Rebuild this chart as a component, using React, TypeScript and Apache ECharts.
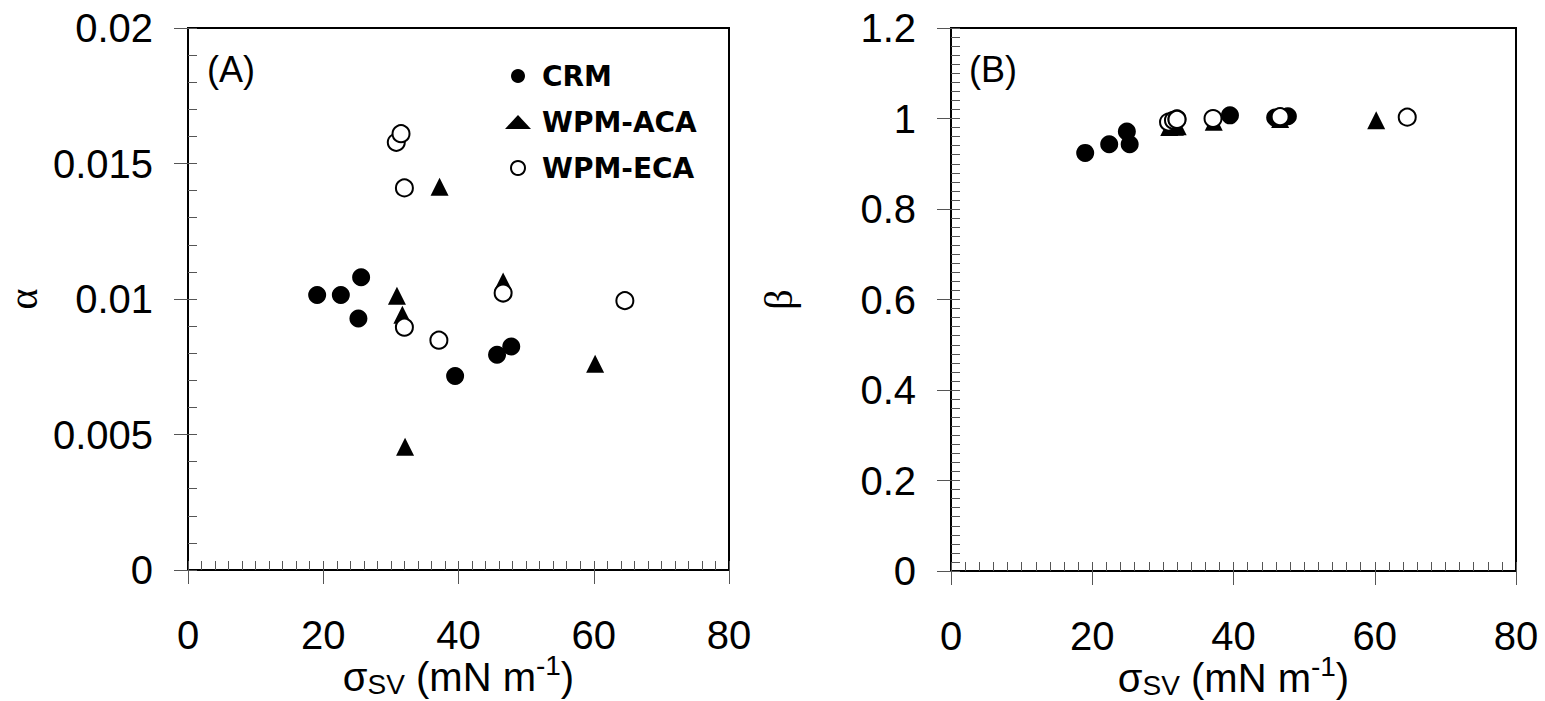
import React, { useEffect, useRef } from "react";
import * as echarts from "echarts";

// ---- Data ----
const seriesNames = ["CRM", "WPM-ACA", "WPM-ECA"];

// Panel (A): alpha vs sigma_SV
const crmSigmaA = [19.1, 22.6, 25.6, 25.2, 39.5, 45.7, 47.8];
const crmAlpha = [0.01015, 0.01015, 0.0108, 0.00928, 0.00716, 0.00794, 0.00825];
const acaSigmaA = [30.9, 31.7, 32.1, 37.2, 46.6, 60.2];
const acaAlpha = [0.01012, 0.00942, 0.00455, 0.01414, 0.01065, 0.00761];
const ecaSigmaA = [30.8, 31.5, 32.0, 32.0, 37.1, 46.6, 64.6];
const ecaAlpha = [0.01578, 0.0161, 0.0141, 0.00896, 0.00848, 0.01022, 0.00994];

// Panel (B): beta vs sigma_SV
const crmSigmaB = [19.0, 22.4, 24.9, 25.3, 39.5, 45.9, 47.7];
const crmBeta = [0.924, 0.943, 0.971, 0.943, 1.007, 1.002, 1.005];
const acaSigmaB = [30.9, 31.7, 32.1, 37.2, 46.6, 60.2];
const acaBeta = [0.981, 0.982, 0.983, 0.993, 0.999, 0.996];
const ecaSigmaB = [30.8, 31.5, 32.0, 32.0, 37.1, 46.6, 64.6];
const ecaBeta = [0.992, 0.996, 0.999, 0.998, 1.0, 1.004, 1.003];

// Axis ranges / ticks
const xRange = { min: 0, max: 80, interval: 20, minorSplit: 10 };
const yRangeA = { min: 0, max: 0.02, interval: 0.005, minorSplit: 5 };
const yRangeB = { min: 0, max: 1.2, interval: 0.2, minorSplit: 10 };

const panelLabels = ["(A)", "(B)"];
const xTitle = "{a|σ}{sub|SV}{a| (mN m}{sup|-1}{a|)}";
const yTitles = ["α", "β"];

const SANS = "Liberation Sans, Arial, sans-serif";
const SERIF = "Liberation Serif, Times New Roman, serif";

const zip = (xs: number[], ys: number[]) => xs.map((x, i) => [x, ys[i]]);

const tickColor = "#555";

function mainXAxis(gridIndex: number) {
  return {
    type: "value",
    gridIndex,
    min: xRange.min,
    max: xRange.max,
    interval: xRange.interval,
    position: "bottom",
    axisLine: { show: true, onZero: false, lineStyle: { color: "#000", width: 2 } },
    axisTick: { show: true, inside: false, length: 14, lineStyle: { color: tickColor, width: 1 } },
    minorTick: { show: false },
    splitLine: { show: false },
    axisLabel: { show: true, margin: 45, fontSize: 40, color: "#000", fontFamily: SANS },
    name: xTitle,
    nameLocation: "middle",
    nameGap: 75,
    nameMoveOverlap: false,
    nameTextStyle: {
      fontFamily: SANS,
      fontSize: 40,
      color: "#000",
      rich: {
        a: { fontFamily: SANS, fontSize: 40, lineHeight: 40, padding: [12, 0, 0, 0], verticalAlign: "top", color: "#000" },
        sub: { fontFamily: SANS, fontSize: 28, lineHeight: 28, padding: [25, 0, 0, 0], verticalAlign: "top", color: "#000" },
        sup: { fontFamily: SANS, fontSize: 28, lineHeight: 28, padding: [6, 0, 0, 0], verticalAlign: "top", color: "#000" },
      },
    },
  };
}

function overlayXAxis(gridIndex: number) {
  return {
    type: "value",
    gridIndex,
    min: xRange.min,
    max: xRange.max,
    interval: xRange.interval,
    position: "bottom",
    axisLine: { show: false, onZero: false },
    axisTick: { show: true, inside: true, length: 9, lineStyle: { color: tickColor, width: 1 } },
    minorTick: { show: true, splitNumber: xRange.minorSplit, length: 9, lineStyle: { color: tickColor, width: 1 } },
    splitLine: { show: false },
    axisLabel: { show: false },
  };
}

function mainYAxis(gridIndex: number, r: any, name: string, gap: number) {
  return {
    type: "value",
    gridIndex,
    min: r.min,
    max: r.max,
    interval: r.interval,
    position: "left",
    axisLine: { show: true, onZero: false, lineStyle: { color: "#000", width: 2 } },
    axisTick: { show: true, inside: false, length: 14, lineStyle: { color: tickColor, width: 1 } },
    minorTick: { show: false },
    splitLine: { show: false },
    axisLabel: { show: true, margin: 35, fontSize: 40, color: "#000", fontFamily: SANS },
    name,
    nameLocation: "middle",
    nameGap: gap,
    nameMoveOverlap: false,
    nameTextStyle: { fontFamily: SERIF, fontSize: 40, color: "#000" },
  };
}

function overlayYAxis(gridIndex: number, r: any) {
  return {
    type: "value",
    gridIndex,
    min: r.min,
    max: r.max,
    interval: r.interval,
    position: "left",
    axisLine: { show: false, onZero: false },
    axisTick: { show: true, inside: true, length: 9, lineStyle: { color: tickColor, width: 1 } },
    minorTick: { show: true, splitNumber: r.minorSplit, length: 9, lineStyle: { color: tickColor, width: 1 } },
    splitLine: { show: false },
    axisLabel: { show: false },
  };
}

const crmStyle = { symbol: "circle", symbolSize: 18, itemStyle: { color: "#000", opacity: 1 } };
const acaStyle = { symbol: "triangle", symbolSize: 18, itemStyle: { color: "#000", opacity: 1 } };
const ecaStyle = {
  symbol: "circle",
  symbolSize: 17,
  itemStyle: { color: "#fff", borderColor: "#000", borderWidth: 2, opacity: 1 },
};

function buildOption() {
  const gridA = { left: 188, top: 28, width: 541, height: 542 };
  const gridB = { left: 951, top: 28, width: 565, height: 543 };
  const frame = { show: true, borderColor: "#000", borderWidth: 2, backgroundColor: "transparent" };
  return {
    animation: false,
    backgroundColor: "#fff",
    grid: [
      { ...gridA, ...frame, outerBoundsMode: "none" },
      { ...gridA, show: false, outerBoundsMode: "none" },
      { ...gridB, ...frame, outerBoundsMode: "none" },
      { ...gridB, show: false, outerBoundsMode: "none" },
    ],
    xAxis: [mainXAxis(0), overlayXAxis(1), mainXAxis(2), overlayXAxis(3)],
    yAxis: [
      mainYAxis(0, yRangeA, yTitles[0], 145),
      overlayYAxis(1, yRangeA),
      mainYAxis(2, yRangeB, yTitles[1], 153),
      overlayYAxis(3, yRangeB),
    ],
    legend: {
      data: seriesNames,
      orient: "vertical",
      left: 500,
      top: 57,
      itemWidth: 26,
      itemHeight: 14,
      itemGap: 18,
      selectedMode: false,
      textStyle: { fontFamily: "DejaVu Sans", fontWeight: "bold", fontSize: 28, color: "#000", padding: [0, 0, 0, 6] },
    },
    graphic: [
      { type: "text", x: 207, y: 69, style: { text: panelLabels[0], fontSize: 36, fontFamily: SANS, fill: "#000", verticalAlign: "middle" } },
      { type: "text", x: 969, y: 69, style: { text: panelLabels[1], fontSize: 36, fontFamily: SANS, fill: "#000", verticalAlign: "middle" } },
    ],
    series: [
      { name: seriesNames[0], type: "scatter", xAxisIndex: 0, yAxisIndex: 0, data: zip(crmSigmaA, crmAlpha), ...crmStyle },
      { name: seriesNames[1], type: "scatter", xAxisIndex: 0, yAxisIndex: 0, data: zip(acaSigmaA, acaAlpha), ...acaStyle },
      { name: seriesNames[2], type: "scatter", xAxisIndex: 0, yAxisIndex: 0, data: zip(ecaSigmaA, ecaAlpha), ...ecaStyle },
      { name: seriesNames[0], type: "scatter", xAxisIndex: 2, yAxisIndex: 2, data: zip(crmSigmaB, crmBeta), ...crmStyle },
      { name: seriesNames[1], type: "scatter", xAxisIndex: 2, yAxisIndex: 2, data: zip(acaSigmaB, acaBeta), ...acaStyle },
      { name: seriesNames[2], type: "scatter", xAxisIndex: 2, yAxisIndex: 2, data: zip(ecaSigmaB, ecaBeta), ...ecaStyle },
    ],
  };
}

export default function App() {
  const ref = useRef<HTMLDivElement>(null);
  useEffect(() => {
    if (!ref.current) return;
    const chart = echarts.init(ref.current, null, { renderer: "svg" });
    chart.setOption(buildOption() as any);
    return () => chart.dispose();
  }, []);
  return (
    <div
      ref={ref}
      style={{ position: "absolute", left: 0, top: 0, width: 1545, height: 701, background: "#fff" }}
    />
  );
}
